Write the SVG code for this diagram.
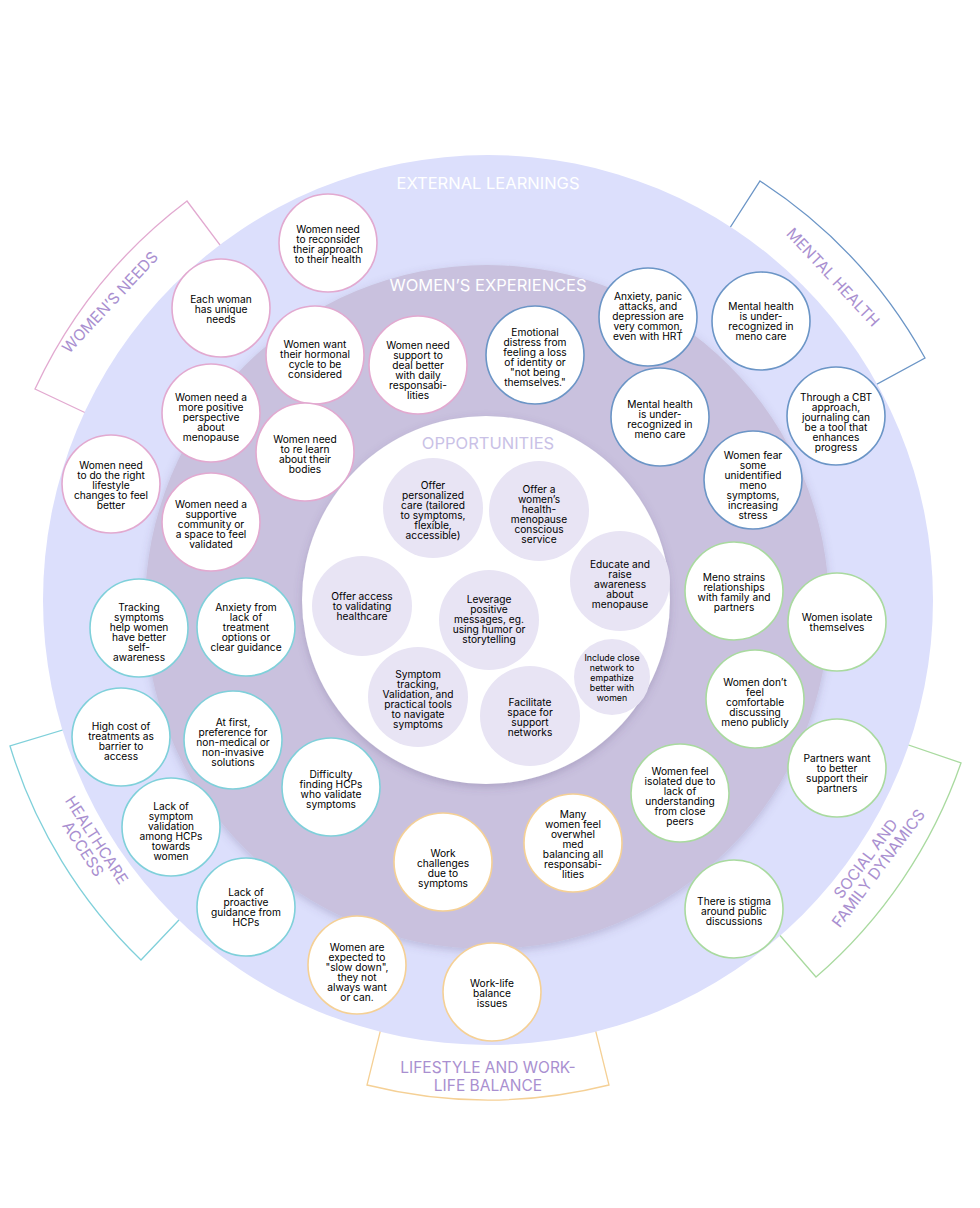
<svg xmlns="http://www.w3.org/2000/svg" width="980" height="1208" viewBox="0 0 980 1208">
<style>
text{font-family:"Inter","Liberation Sans",sans-serif;}
.n{font-size:10.2px;fill:#000;text-anchor:middle;}
.s{font-size:8.8px;fill:#000;text-anchor:middle;}
.ring{font-size:16.5px;text-anchor:middle;}
.tab{font-size:15.5px;fill:#a98fd0;text-anchor:middle;}
.pk{fill:#fff;stroke:#e2a9d0;stroke-width:1.6}
.bl{fill:#fff;stroke:#6b95c6;stroke-width:1.6}
.gr{fill:#fff;stroke:#a9da9f;stroke-width:1.6}
.or{fill:#fff;stroke:#f5d095;stroke-width:1.6}
.tl{fill:#fff;stroke:#7fd0da;stroke-width:1.6}
.op{fill:#e8e4f4}
.t{fill:#fff;stroke-width:1.3}
</style>
<defs>
<filter id="sh" x="-10%" y="-10%" width="120%" height="120%"><feDropShadow dx="0" dy="3" stdDeviation="4" flood-color="#554477" flood-opacity="0.25"/></filter>
</defs>
<rect width="980" height="1208" fill="#fff"/>
<g id="tabs">
<path class="t" stroke="#e2a9d0" d="M35,389 A500,500 0 0 1 187,201 L235,265 A420,420 0 0 0 107,423 Z"/>
<path class="t" stroke="#6b95c6" d="M760,181 A500,500 0 0 1 925,358 L855,396 A420,420 0 0 0 717,248 Z"/>
<path class="t" stroke="#7fd0da" d="M10,746 A500,500 0 0 0 141,960 L196,902 A420,420 0 0 1 86,723 Z"/>
<path class="t" stroke="#f5d095" d="M367,1085 A500,500 0 0 0 609,1085 L590,1008 A420,420 0 0 1 386,1008 Z"/>
<path class="t" stroke="#a9da9f" d="M816,977 A500,500 0 0 0 961,763 L885,737 A420,420 0 0 1 764,917 Z"/>
<text class="tab" transform="translate(114,306) rotate(-47)">WOMEN’S NEEDS</text>
<text class="tab" transform="translate(829,281) rotate(47)">MENTAL HEALTH</text>
<text class="tab" transform="translate(92,843) rotate(57)"><tspan x="0" y="0">HEALTHCARE</tspan><tspan x="0" y="16">ACCESS</tspan></text>
<text class="tab"><tspan x="488" y="1073">LIFESTYLE AND WORK-</tspan><tspan x="488" y="1091">LIFE BALANCE</tspan></text>
<text class="tab" transform="translate(870,862) rotate(-53)"><tspan x="0" y="0">SOCIAL AND</tspan><tspan x="0" y="16">FAMILY DYNAMICS</tspan></text>
</g>
<g id="rings">
<circle cx="488" cy="600" r="445" fill="#dcdffc"/>
<circle cx="487" cy="607" r="342" fill="#c9c1de" filter="url(#sh)"/>
<circle cx="486" cy="600" r="184" fill="#fff" filter="url(#sh)"/>
<text class="ring" x="488" y="189" fill="#fff">EXTERNAL LEARNINGS</text>
<text class="ring" x="488" y="291" fill="#fff">WOMEN’S EXPERIENCES</text>
<text class="ring" x="488" y="449" fill="#c9c1e6">OPPORTUNITIES</text>
</g>
<g id="connectors"></g>
<g id="n1"><circle class="pk" cx="328" cy="243" r="49"/><text class="n"><tspan x="328" y="233">Women need</tspan><tspan x="328" y="243">to reconsider</tspan><tspan x="328" y="253">their approach</tspan><tspan x="328" y="263">to their health</tspan></text></g>
<g id="n2"><circle class="pk" cx="221" cy="308" r="49"/><text class="n"><tspan x="221" y="303">Each woman</tspan><tspan x="221" y="313">has unique</tspan><tspan x="221" y="323">needs</tspan></text></g>
<g id="n3"><circle class="pk" cx="315" cy="355" r="49"/><text class="n"><tspan x="315" y="348">Women want</tspan><tspan x="315" y="358">their hormonal</tspan><tspan x="315" y="368">cycle to be</tspan><tspan x="315" y="378">considered</tspan></text></g>
<g id="n4"><circle class="pk" cx="418" cy="365" r="49"/><text class="n"><tspan x="418" y="349">Women need</tspan><tspan x="418" y="359">support to</tspan><tspan x="418" y="369">deal better</tspan><tspan x="418" y="379">with daily</tspan><tspan x="418" y="389">responsabi-</tspan><tspan x="418" y="399">lities</tspan></text></g>
<g id="n5"><circle class="pk" cx="211" cy="413" r="49"/><text class="n"><tspan x="211" y="401">Women need a</tspan><tspan x="211" y="411">more positive</tspan><tspan x="211" y="421">perspective</tspan><tspan x="211" y="431">about</tspan><tspan x="211" y="441">menopause</tspan></text></g>
<g id="n6"><circle class="pk" cx="305" cy="452" r="49"/><text class="n"><tspan x="305" y="443">Women need</tspan><tspan x="305" y="453">to re learn</tspan><tspan x="305" y="463">about their</tspan><tspan x="305" y="473">bodies</tspan></text></g>
<g id="n7"><circle class="pk" cx="111" cy="484" r="49"/><text class="n"><tspan x="111" y="469">Women need</tspan><tspan x="111" y="479">to do the right</tspan><tspan x="111" y="489">lifestyle</tspan><tspan x="111" y="499">changes to feel</tspan><tspan x="111" y="509">better</tspan></text></g>
<g id="n8"><circle class="pk" cx="211" cy="522" r="49"/><text class="n"><tspan x="211" y="508">Women need a</tspan><tspan x="211" y="518">supportive</tspan><tspan x="211" y="528">community or</tspan><tspan x="211" y="538">a space to feel</tspan><tspan x="211" y="548">validated</tspan></text></g>
<g id="n9"><circle class="bl" cx="535" cy="355" r="49"/><text class="n"><tspan x="535" y="336">Emotional</tspan><tspan x="535" y="346">distress from</tspan><tspan x="535" y="356">feeling a loss</tspan><tspan x="535" y="366">of identity or</tspan><tspan x="535" y="376">"not being</tspan><tspan x="535" y="386">themselves."</tspan></text></g>
<g id="n10"><circle class="bl" cx="648" cy="317" r="49"/><text class="n"><tspan x="648" y="300">Anxiety, panic</tspan><tspan x="648" y="310">attacks, and</tspan><tspan x="648" y="320">depression are</tspan><tspan x="648" y="330">very common,</tspan><tspan x="648" y="340">even with HRT</tspan></text></g>
<g id="n11"><circle class="bl" cx="761" cy="321" r="49"/><text class="n"><tspan x="761" y="310">Mental health</tspan><tspan x="761" y="320">is under-</tspan><tspan x="761" y="330">recognized in</tspan><tspan x="761" y="340">meno care</tspan></text></g>
<g id="n12"><circle class="bl" cx="660" cy="417" r="49"/><text class="n"><tspan x="660" y="408">Mental health</tspan><tspan x="660" y="418">is under-</tspan><tspan x="660" y="428">recognized in</tspan><tspan x="660" y="438">meno care</tspan></text></g>
<g id="n13"><circle class="bl" cx="836" cy="416" r="49"/><text class="n"><tspan x="836" y="401">Through a CBT</tspan><tspan x="836" y="411">approach,</tspan><tspan x="836" y="421">journaling can</tspan><tspan x="836" y="431">be a tool that</tspan><tspan x="836" y="441">enhances</tspan><tspan x="836" y="451">progress</tspan></text></g>
<g id="n14"><circle class="bl" cx="753" cy="480" r="49"/><text class="n"><tspan x="753" y="459">Women fear</tspan><tspan x="753" y="469">some</tspan><tspan x="753" y="479">unidentified</tspan><tspan x="753" y="489">meno</tspan><tspan x="753" y="499">symptoms,</tspan><tspan x="753" y="509">increasing</tspan><tspan x="753" y="519">stress</tspan></text></g>
<g id="n15"><circle class="gr" cx="734" cy="591" r="49"/><text class="n"><tspan x="734" y="581">Meno strains</tspan><tspan x="734" y="591">relationships</tspan><tspan x="734" y="601">with family and</tspan><tspan x="734" y="611">partners</tspan></text></g>
<g id="n16"><circle class="gr" cx="837" cy="622" r="49"/><text class="n"><tspan x="837" y="621">Women isolate</tspan><tspan x="837" y="631">themselves</tspan></text></g>
<g id="n17"><circle class="gr" cx="755" cy="699" r="49"/><text class="n"><tspan x="755" y="686">Women don’t</tspan><tspan x="755" y="696">feel</tspan><tspan x="755" y="706">comfortable</tspan><tspan x="755" y="716">discussing</tspan><tspan x="755" y="726">meno publicly</tspan></text></g>
<g id="n18"><circle class="gr" cx="837" cy="768" r="49"/><text class="n"><tspan x="837" y="762">Partners want</tspan><tspan x="837" y="772">to better</tspan><tspan x="837" y="782">support their</tspan><tspan x="837" y="792">partners</tspan></text></g>
<g id="n19"><circle class="gr" cx="680" cy="793" r="49"/><text class="n"><tspan x="680" y="775">Women feel</tspan><tspan x="680" y="785">isolated due to</tspan><tspan x="680" y="795">lack of</tspan><tspan x="680" y="805">understanding</tspan><tspan x="680" y="815">from close</tspan><tspan x="680" y="825">peers</tspan></text></g>
<g id="n20"><circle class="gr" cx="734" cy="909" r="49"/><text class="n"><tspan x="734" y="905">There is stigma</tspan><tspan x="734" y="915">around public</tspan><tspan x="734" y="925">discussions</tspan></text></g>
<g id="n21"><circle class="or" cx="573" cy="843" r="49"/><text class="n"><tspan x="573" y="818">Many</tspan><tspan x="573" y="828">women feel</tspan><tspan x="573" y="838">overwhel</tspan><tspan x="573" y="848">med</tspan><tspan x="573" y="858">balancing all</tspan><tspan x="573" y="868">responsabi-</tspan><tspan x="573" y="878">lities</tspan></text></g>
<g id="n22"><circle class="or" cx="443" cy="862" r="49"/><text class="n"><tspan x="443" y="857">Work</tspan><tspan x="443" y="867">challenges</tspan><tspan x="443" y="877">due to</tspan><tspan x="443" y="887">symptoms</tspan></text></g>
<g id="n23"><circle class="or" cx="357" cy="965" r="49"/><text class="n"><tspan x="357" y="951">Women are</tspan><tspan x="357" y="961">expected to</tspan><tspan x="357" y="971">"slow down",</tspan><tspan x="357" y="981">they not</tspan><tspan x="357" y="991">always want</tspan><tspan x="357" y="1001">or can.</tspan></text></g>
<g id="n24"><circle class="or" cx="492" cy="992" r="49"/><text class="n"><tspan x="492" y="987">Work-life</tspan><tspan x="492" y="997">balance</tspan><tspan x="492" y="1007">issues</tspan></text></g>
<g id="n25"><circle class="tl" cx="139" cy="628" r="49"/><text class="n"><tspan x="139" y="611">Tracking</tspan><tspan x="139" y="621">symptoms</tspan><tspan x="139" y="631">help women</tspan><tspan x="139" y="641">have better</tspan><tspan x="139" y="651">self-</tspan><tspan x="139" y="661">awareness</tspan></text></g>
<g id="n26"><circle class="tl" cx="246" cy="627" r="49"/><text class="n"><tspan x="246" y="611">Anxiety from</tspan><tspan x="246" y="621">lack of</tspan><tspan x="246" y="631">treatment</tspan><tspan x="246" y="641">options or</tspan><tspan x="246" y="651">clear guidance</tspan></text></g>
<g id="n27"><circle class="tl" cx="121" cy="737" r="49"/><text class="n"><tspan x="121" y="730">High cost of</tspan><tspan x="121" y="740">treatments as</tspan><tspan x="121" y="750">barrier to</tspan><tspan x="121" y="760">access</tspan></text></g>
<g id="n28"><circle class="tl" cx="233" cy="740" r="49"/><text class="n"><tspan x="233" y="726">At first,</tspan><tspan x="233" y="736">preference for</tspan><tspan x="233" y="746">non-medical or</tspan><tspan x="233" y="756">non-invasive</tspan><tspan x="233" y="766">solutions</tspan></text></g>
<g id="n29"><circle class="tl" cx="171" cy="827" r="49"/><text class="n"><tspan x="171" y="810">Lack of</tspan><tspan x="171" y="820">symptom</tspan><tspan x="171" y="830">validation</tspan><tspan x="171" y="840">among HCPs</tspan><tspan x="171" y="850">towards</tspan><tspan x="171" y="860">women</tspan></text></g>
<g id="n30"><circle class="tl" cx="331" cy="787" r="49"/><text class="n"><tspan x="331" y="778">Difficulty</tspan><tspan x="331" y="788">finding HCPs</tspan><tspan x="331" y="798">who validate</tspan><tspan x="331" y="808">symptoms</tspan></text></g>
<g id="n31"><circle class="tl" cx="246" cy="907" r="49"/><text class="n"><tspan x="246" y="896">Lack of</tspan><tspan x="246" y="906">proactive</tspan><tspan x="246" y="916">guidance from</tspan><tspan x="246" y="926">HCPs</tspan></text></g>
<g id="o1"><circle class="op" cx="433" cy="508" r="50"/><text class="n"><tspan x="433" y="489">Offer</tspan><tspan x="433" y="499">personalized</tspan><tspan x="433" y="509">care (tailored</tspan><tspan x="433" y="519">to symptoms,</tspan><tspan x="433" y="529">flexible,</tspan><tspan x="433" y="539">accessible)</tspan></text></g>
<g id="o2"><circle class="op" cx="539" cy="511" r="50"/><text class="n"><tspan x="539" y="493">Offer a</tspan><tspan x="539" y="503">women’s</tspan><tspan x="539" y="513">health-</tspan><tspan x="539" y="523">menopause</tspan><tspan x="539" y="533">conscious</tspan><tspan x="539" y="543">service</tspan></text></g>
<g id="o3"><circle class="op" cx="620" cy="581" r="50"/><text class="n"><tspan x="620" y="568">Educate and</tspan><tspan x="620" y="578">raise</tspan><tspan x="620" y="588">awareness</tspan><tspan x="620" y="598">about</tspan><tspan x="620" y="608">menopause</tspan></text></g>
<g id="o4"><circle class="op" cx="362" cy="606" r="50"/><text class="n"><tspan x="362" y="600">Offer access</tspan><tspan x="362" y="610">to validating</tspan><tspan x="362" y="620">healthcare</tspan></text></g>
<g id="o5"><circle class="op" cx="489" cy="620" r="50"/><text class="n"><tspan x="489" y="603">Leverage</tspan><tspan x="489" y="613">positive</tspan><tspan x="489" y="623">messages, eg.</tspan><tspan x="489" y="633">using humor or</tspan><tspan x="489" y="643">storytelling</tspan></text></g>
<g id="o6"><circle class="op" cx="418" cy="697" r="50"/><text class="n"><tspan x="418" y="678">Symptom</tspan><tspan x="418" y="688">tracking,</tspan><tspan x="418" y="698">Validation, and</tspan><tspan x="418" y="708">practical tools</tspan><tspan x="418" y="718">to navigate</tspan><tspan x="418" y="728">symptoms</tspan></text></g>
<g id="o7"><circle class="op" cx="530" cy="716" r="50"/><text class="n"><tspan x="530" y="706">Facilitate</tspan><tspan x="530" y="716">space for</tspan><tspan x="530" y="726">support</tspan><tspan x="530" y="736">networks</tspan></text></g>
<g id="o8"><circle class="op" cx="612" cy="677" r="38"/><text class="s"><tspan x="612" y="661">Include close</tspan><tspan x="612" y="671">network to</tspan><tspan x="612" y="681">empathize</tspan><tspan x="612" y="691">better with</tspan><tspan x="612" y="701">women</tspan></text></g>
</svg>
